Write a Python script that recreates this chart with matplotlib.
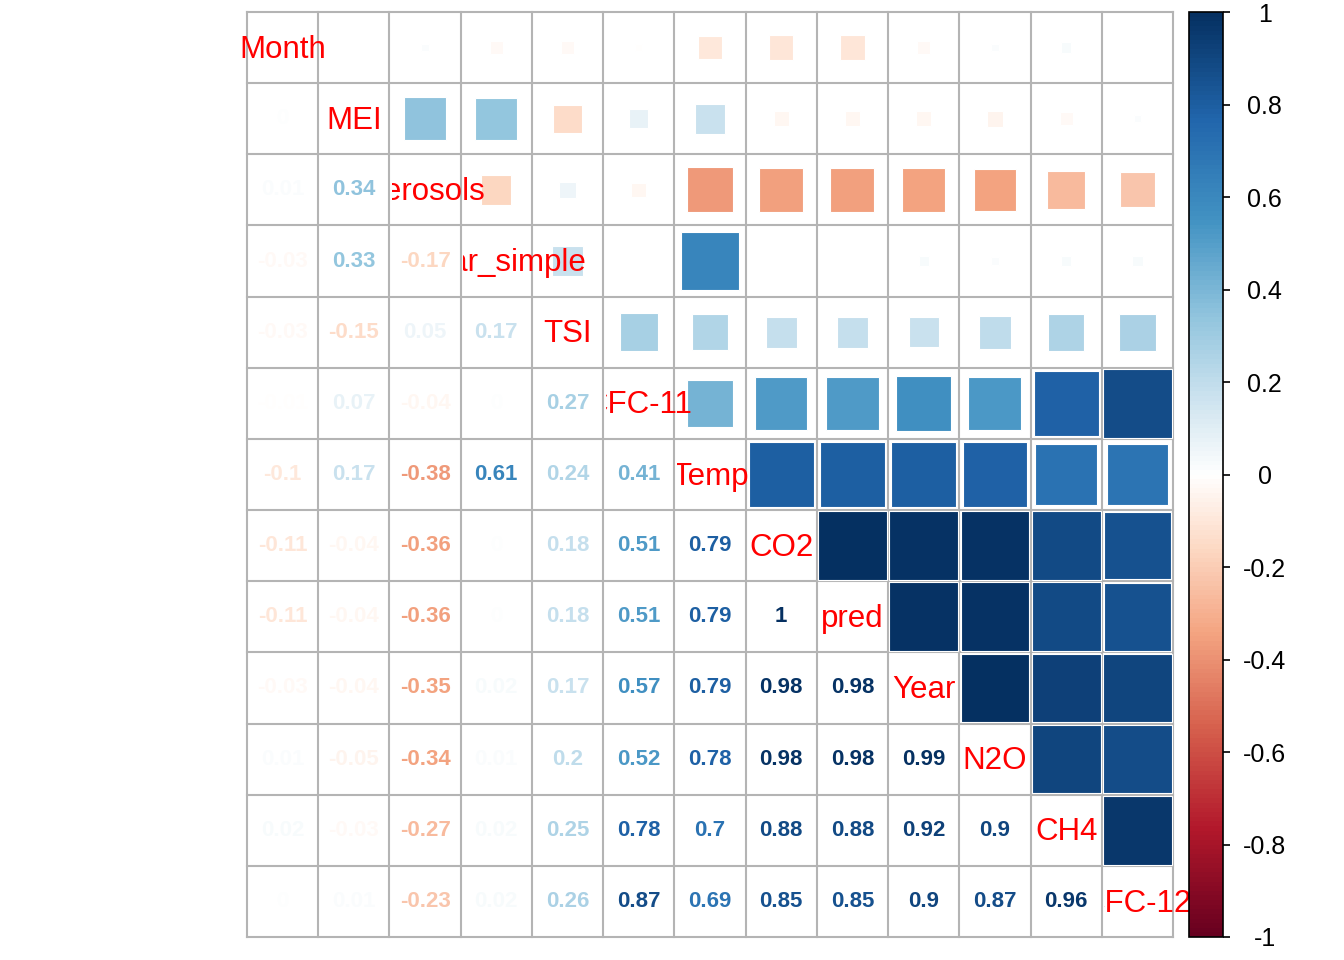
import numpy as np
import matplotlib
matplotlib.use("Agg")
import matplotlib.pyplot as plt
from matplotlib.colors import LinearSegmentedColormap, Normalize
from matplotlib.patches import Rectangle
from matplotlib.cm import ScalarMappable

plt.rcParams['font.family'] = ['Liberation Sans', 'DejaVu Sans']

variables = ["Month", "MEI", "Aerosols", "Solar_simple", "TSI", "CFC-11", "Temp",
             "CO2", "pred", "Year", "N2O", "CH4", "CFC-12"]

# lower-triangle correlations, row by row (columns before the diagonal)
lower_rows = [
    [],
    [0.0],
    [0.01, 0.34],
    [-0.03, 0.33, -0.17],
    [-0.03, -0.15, 0.05, 0.17],
    [-0.01, 0.07, -0.04, 0.0, 0.27],
    [-0.10, 0.17, -0.38, 0.61, 0.24, 0.41],
    [-0.11, -0.04, -0.36, 0.0, 0.18, 0.51, 0.79],
    [-0.11, -0.04, -0.36, 0.0, 0.18, 0.51, 0.79, 1.0],
    [-0.03, -0.04, -0.35, 0.02, 0.17, 0.57, 0.79, 0.98, 0.98],
    [0.01, -0.05, -0.34, 0.01, 0.20, 0.52, 0.78, 0.98, 0.98, 0.99],
    [0.02, -0.03, -0.27, 0.02, 0.25, 0.78, 0.70, 0.88, 0.88, 0.92, 0.90],
    [0.0, 0.01, -0.23, 0.02, 0.26, 0.87, 0.69, 0.85, 0.85, 0.90, 0.87, 0.96],
]

cbar_ticks = [-1, -0.8, -0.6, -0.4, -0.2, 0, 0.2, 0.4, 0.6, 0.8, 1]
cbar_ticklabels = ["-1", "-0.8", "-0.6", "-0.4", "-0.2", "0", "0.2", "0.4", "0.6", "0.8", "1"]

palette = ["#67001F", "#B2182B", "#D6604D", "#F4A582", "#FDDBC7", "#FFFFFF",
           "#D1E5F0", "#92C5DE", "#4393C3", "#2166AC", "#053061"]
gamma = 0.85
steps = np.linspace(-1, 1, len(palette))
node_pos = (np.sign(steps) * np.abs(steps) ** (1 / gamma) + 1) / 2
cmap = LinearSegmentedColormap.from_list("RdBu_corr", list(zip(node_pos, palette)), N=200)
norm = Normalize(-1, 1)

n = len(variables)
M = np.eye(n)
for i, row in enumerate(lower_rows):
    for j, v in enumerate(row):
        M[i, j] = v
        M[j, i] = v

W, H = 1344, 960
fig = plt.figure(figsize=(W / 100, H / 100), dpi=100)
gx0, gx1, gy0, gy1 = 247, 1173, 12, 937
ax = fig.add_axes([gx0 / W, 1 - gy1 / H, (gx1 - gx0) / W, (gy1 - gy0) / H])
ax.set_xlim(-0.5, n - 0.5)
ax.set_ylim(n - 0.5, -0.5)
ax.axis('off')

grid_col = '#b4b4b4'
# upper triangle: squares
for i in range(n):
    for j in range(i + 1, n):
        r = M[i, j]
        s = min(np.sqrt(abs(r)) * 1.03, 0.965)
        if s <= 0:
            continue
        ax.add_patch(Rectangle((j - s / 2, i - s / 2), s, s, facecolor=cmap(norm(r)),
                               edgecolor='white', linewidth=0.8, zorder=2))

# lower triangle: numbers
for i in range(n):
    for j in range(i):
        r = M[i, j]
        txt = f"{round(r, 2):g}"
        if txt == "-0":
            txt = "0"
        ax.text(j, i, txt, ha='center', va='center', fontsize=16, fontweight='bold',
                color=cmap(norm(r)), zorder=3)

# grid
for k in range(n + 1):
    ax.plot([k - 0.5, k - 0.5], [-0.5, n - 0.5], color=grid_col, lw=1.5, zorder=1,
            clip_on=False, solid_capstyle='projecting')
    ax.plot([-0.5, n - 0.5], [k - 0.5, k - 0.5], color=grid_col, lw=1.5, zorder=1,
            clip_on=False, solid_capstyle='projecting')

# diagonal labels (cut off on the left by the neighbouring cell)
for i, name in enumerate(variables):
    t = ax.text(i, i + 0.03, name, ha='center', va='center', fontsize=22.5, color='red',
                zorder=4, clip_on=(i > 0))
    if i > 0:
        clip = Rectangle((i - 0.5 + 0.035, -5), 20, 30, transform=ax.transData)
        t.set_clip_path(clip)

# colorbar
cax = fig.add_axes([1189 / W, 1 - gy1 / H, 34 / W, (gy1 - gy0) / H])
sm = ScalarMappable(norm=norm, cmap=cmap)
cb = fig.colorbar(sm, cax=cax, ticks=cbar_ticks)
cb.ax.set_yticklabels(cbar_ticklabels)
cb.outline.set_linewidth(1.2)
cb.outline.set_edgecolor('black')
cax.tick_params(axis='y', length=5, width=1.2, direction='out', labelsize=18, pad=25)
for lab in cax.get_yticklabels():
    lab.set_horizontalalignment('center')

fig.savefig("out.png", dpi=100)
